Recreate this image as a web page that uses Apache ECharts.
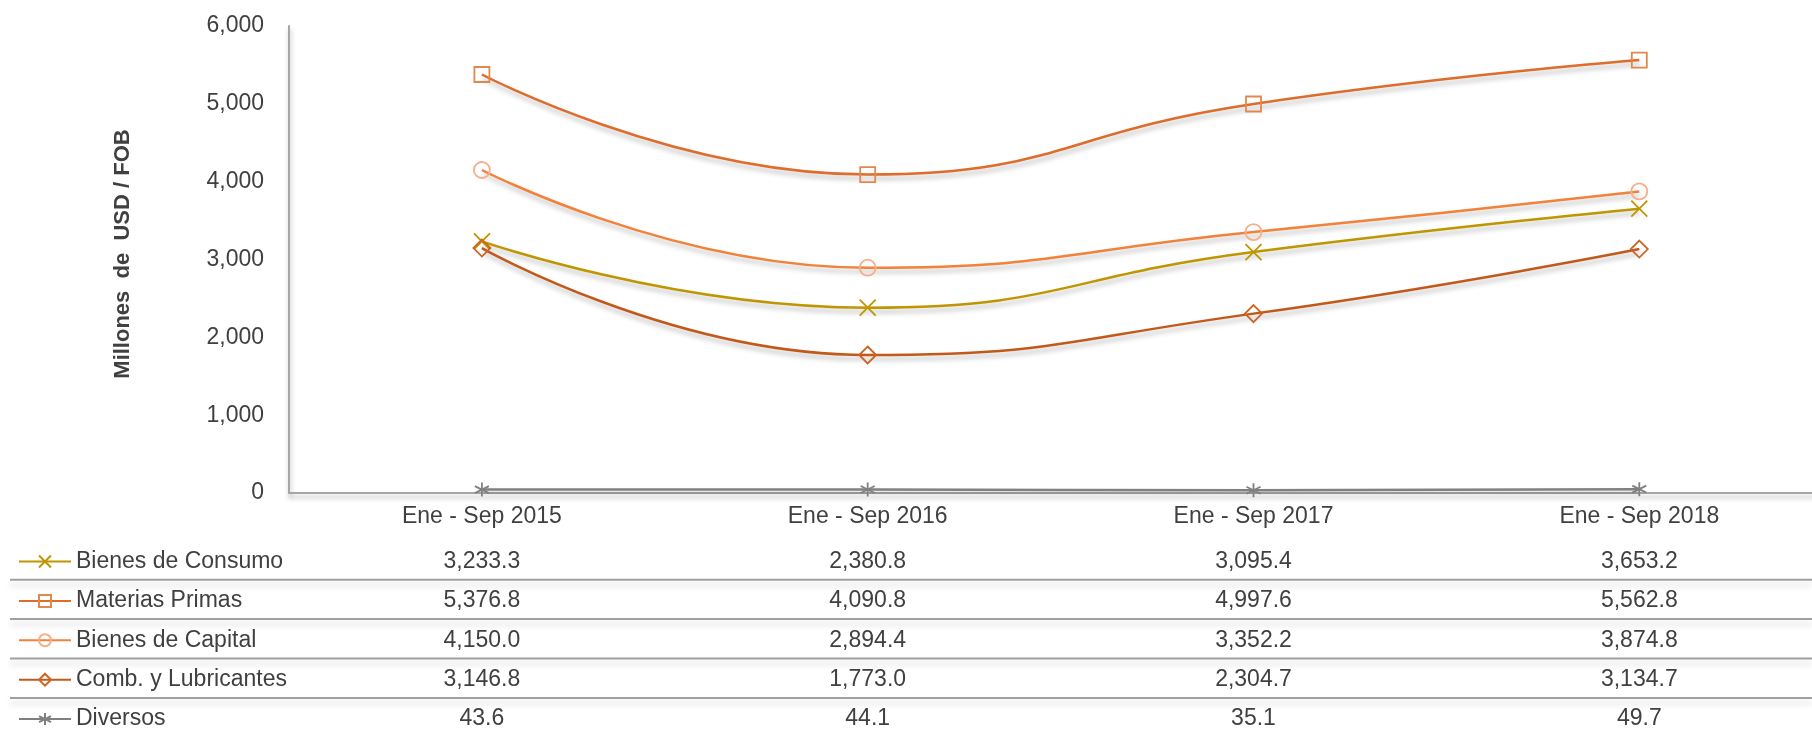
<!DOCTYPE html>
<html>
<head>
<meta charset="utf-8">
<script src="https://cdn.jsdelivr.net/npm/echarts@6/dist/echarts.min.js"></script>
<style>
html,body{margin:0;padding:0;background:#fff;}
#chart{width:1812px;height:729px;}
</style>
</head>
<body>
<div id="chart"></div>
<script>
// ---- data ----
const categories = ['Ene - Sep 2015', 'Ene - Sep 2016', 'Ene - Sep 2017', 'Ene - Sep 2018'];
const seriesNames = ['Bienes de Consumo', 'Materias Primas', 'Bienes de Capital', 'Comb. y Lubricantes', 'Diversos'];
const bienesConsumo = [3233.3, 2380.8, 3095.4, 3653.2];
const materiasPrimas = [5376.8, 4090.8, 4997.6, 5562.8];
const bienesCapital = [4150.0, 2894.4, 3352.2, 3874.8];
const combLubricantes = [3146.8, 1773.0, 2304.7, 3134.7];
const diversos = [43.6, 44.1, 35.1, 49.7];
const yMin = 0, yMax = 6000, yInterval = 1000;
const yAxisTitle = 'Millones  de  USD / FOB';

// ---- styling ----
const FONT = '"Liberation Sans Narrow", "Arial Narrow", "Liberation Sans", Arial, sans-serif';
const FS = 23;
const TXT = '#404040';
const allData = [bienesConsumo, materiasPrimas, bienesCapital, combLubricantes, diversos];
const lineColors = ['#C09600', '#DE6C2A', '#F2813A', '#C2591A', '#808080'];
const markerColors = ['#C09600', '#E2884E', '#F7AE88', '#CC6424', '#808080'];
const symbols = [
  'path://M0,0L12,12M12,0L0,12',
  'rect',
  'circle',
  'diamond',
  'path://M6,0L6,12M0.8,3L11.2,9M0.8,9L11.2,3'
];
const symbolSizes = [16, 15, 16, 17, 14];

const AXIS_Y = 493, GRID_TOP = 26, GRID_LEFT = 289, BAND = 385.8;
const ROW0 = 560, ROW_STEP = 39.4;

const fmt = v => v.toLocaleString('en-US', {minimumFractionDigits: 1, maximumFractionDigits: 1});

const shadow = {shadowColor: 'rgba(0,0,0,0.28)', shadowBlur: 5, shadowOffsetX: 1, shadowOffsetY: 4};

const xAxes = [{
  type: 'category',
  data: categories,
  position: 'bottom',
  boundaryGap: true,
  axisLine: {show: true, lineStyle: Object.assign({color: '#a6a6a6', width: 2}, shadow)},
  axisTick: {show: false},
  axisLabel: {fontSize: FS, color: TXT, fontFamily: FONT, margin: 12},
  splitLine: {show: false}
}];
allData.forEach((arr, k) => {
  xAxes.push({
    type: 'category',
    data: arr.map(fmt),
    position: 'bottom',
    offset: (ROW0 - AXIS_Y - 22) + ROW_STEP * k,
    boundaryGap: true,
    axisLine: {show: false},
    axisTick: {show: false},
    axisLabel: {fontSize: FS, color: TXT, fontFamily: FONT, margin: 12},
    splitLine: {show: false}
  });
});

const series = allData.map((arr, k) => ({
  name: seriesNames[k],
  type: 'line',
  data: arr,
  xAxisIndex: 0,
  smooth: 0.5,
  symbol: symbols[k],
  symbolSize: symbolSizes[k],
  showAllSymbol: true,
  lineStyle: Object.assign({color: lineColors[k], width: 2.5}, shadow),
  itemStyle: {color: 'rgba(255,255,255,0)', borderColor: markerColors[k], borderWidth: 1.8},
  emphasis: {disabled: true},
  z: 3 + k
}));

// one legend per table row
const legends = seriesNames.map((name, k) => ({
  orient: 'horizontal',
  left: 18,
  top: ROW0 + ROW_STEP * k - 10,
  itemWidth: 52,
  itemHeight: 15,
  padding: 0,
  selectedMode: false,
  data: [name],
  textStyle: {fontSize: FS, color: TXT, fontFamily: FONT}
}));

const graphics = [
  {
    type: 'text',
    x: 123, y: 254,
    rotation: Math.PI / 2,
    style: {text: yAxisTitle, fontSize: 22, fontWeight: 'bold', fontFamily: FONT, fill: TXT,
            textAlign: 'center', textVerticalAlign: 'middle'}
  }
];
for (let k = 0; k < 4; k++) {
  const y = ROW0 + ROW_STEP * (k + 0.5);
  graphics.push({
    type: 'line',
    shape: {x1: 10, y1: y, x2: 1812, y2: y},
    style: {stroke: '#a0a0a0', lineWidth: 2, shadowColor: 'rgba(0,0,0,0.18)', shadowBlur: 6, shadowOffsetY: 5}
  });
}

const chart = echarts.init(document.getElementById('chart'), null, {renderer: 'canvas'});
chart.setOption({
  animation: false,
  backgroundColor: '#ffffff',
  textStyle: {fontFamily: FONT},
  grid: {left: GRID_LEFT, top: GRID_TOP, width: BAND * 4, height: AXIS_Y - GRID_TOP, containLabel: false, outerBoundsMode: 'none'},
  legend: legends,
  xAxis: xAxes,
  yAxis: {
    type: 'value',
    min: yMin, max: yMax, interval: yInterval,
    axisLine: {show: true, lineStyle: Object.assign({color: '#a6a6a6', width: 2}, shadow)},
    axisTick: {show: false},
    splitLine: {show: false},
    axisLabel: {fontSize: FS, color: TXT, fontFamily: FONT, margin: 25,
                formatter: v => v.toLocaleString('en-US')}
  },
  series: series,
  graphic: graphics
});
</script>
</body>
</html>
